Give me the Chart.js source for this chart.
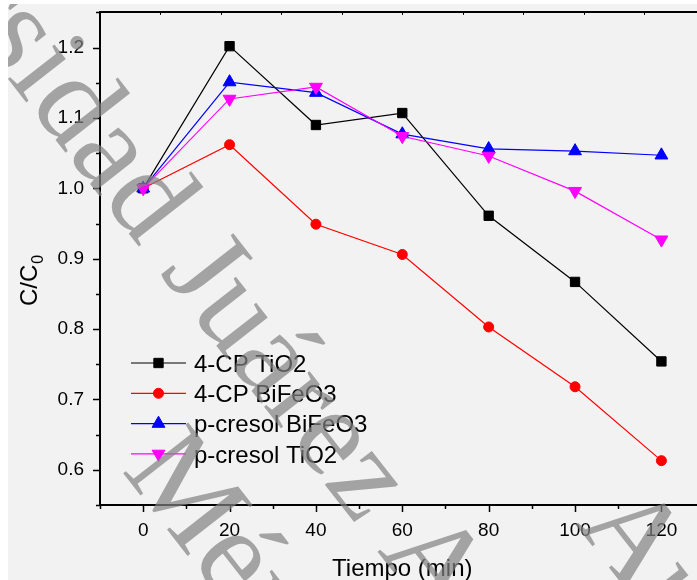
<!DOCTYPE html>
<html>
<head>
<meta charset="utf-8">
<script src="https://cdn.jsdelivr.net/npm/chart.js@4.4.0/dist/chart.umd.min.js"></script>
<style>
  html, body { margin: 0; padding: 0; background: #ffffff; overflow: hidden; width: 697px; height: 580px; }
  #wrap { position: absolute; left: 8px; top: 4px; width: 705px; height: 576px; }
</style>
</head>
<body>
<div id="wrap"><canvas id="chart" width="705" height="576"></canvas></div>
<script>
const tiempo = [0, 20, 40, 60, 80, 100, 120];
const cpTiO2 = [1.0, 1.202, 1.090, 1.107, 0.961, 0.867, 0.754];
const cpBiFeO3 = [1.0, 1.062, 0.949, 0.906, 0.803, 0.718, 0.613];
const cresolBiFeO3 = [1.0, 1.151, 1.136, 1.077, 1.056, 1.053, 1.047];
const cresolTiO2 = [1.0, 1.127, 1.144, 1.074, 1.046, 0.996, 0.927];
const seriesNames = ["4-CP TiO2", "4-CP BiFeO3", "p-cresol BiFeO3", "p-cresol TiO2"];
const xTickLabels = [0, 20, 40, 60, 80, 100, 120];
const yTickLabels = [0.6, 0.7, 0.8, 0.9, 1.0, 1.1, 1.2];

const FONT = "'Liberation Sans', Arial, sans-serif";
const SERIF = "'Liberation Serif', 'Times New Roman', serif";

const toPoints = vals => vals.map((v, i) => ({ x: tiempo[i], y: v }));

const markers = [
  { color: "#000000", style: "rect", radius: 6.6, rotation: 0 },
  { color: "#ff0000", style: "circle", radius: 5, rotation: 0 },
  { color: "#0000ff", style: "triangle", radius: 7.4, rotation: 0 },
  { color: "#ff00ff", style: "triangle", radius: 7.4, rotation: 180 }
];
const allValues = [cpTiO2, cpBiFeO3, cresolBiFeO3, cresolTiO2];

const datasets = allValues.map((vals, i) => ({
  label: seriesNames[i],
  data: toPoints(vals),
  borderColor: markers[i].color,
  backgroundColor: markers[i].color,
  borderWidth: 1.2,
  pointStyle: markers[i].style,
  pointRotation: markers[i].rotation,
  pointRadius: markers[i].radius,
  pointBorderWidth: 1,
  pointBorderColor: markers[i].color,
  pointBackgroundColor: markers[i].color,
  tension: 0,
  order: 3 - i
}));

// no label padding, the axes sit exactly where afterFit says
const fixSize = (w, h) => s => {
  if (w !== null) s.width = w;
  if (h !== null) s.height = h;
  s.paddingLeft = 0; s.paddingRight = 0; s.paddingTop = 0; s.paddingBottom = 0;
};

// background, axis ticks, titles, legend, watermark
const decor = {
  id: "decor",
  beforeDraw(chart) {
    const ctx = chart.ctx;
    ctx.save();
    ctx.fillStyle = "#f2f2f2";
    ctx.fillRect(0, 0, chart.width, chart.height);
    ctx.restore();
  },
  afterDatasetsDraw(chart) {
    const ctx = chart.ctx;
    const { x, y, x2 } = chart.scales;
    ctx.save();
    ctx.strokeStyle = "#000";
    ctx.lineWidth = 1.5;
    x.ticks.forEach(t => {
      const px = Math.round(x.getPixelForValue(t.value)) + 0.5;
      const len = t.value % 20 === 0 ? 7 : 4;
      ctx.beginPath();
      ctx.moveTo(px, x.top);
      ctx.lineTo(px, x.top + len);
      ctx.stroke();
    });
    y.ticks.forEach(t => {
      const py = Math.round(y.getPixelForValue(t.value)) + 0.5;
      const major = Math.abs(t.value * 10 - Math.round(t.value * 10)) < 1e-6;
      const len = major ? 7 : 4;
      ctx.beginPath();
      ctx.moveTo(y.right, py);
      ctx.lineTo(y.right - len, py);
      ctx.stroke();
    });
    ctx.lineWidth = 1;
    x2.ticks.forEach(t => {
      const px = Math.round(x2.getPixelForValue(t.value)) + 0.5;
      ctx.beginPath();
      ctx.moveTo(px, x2.bottom);
      ctx.lineTo(px, x2.bottom + 2.5);
      ctx.stroke();
    });

    // axis titles
    ctx.fillStyle = "#000";
    ctx.textBaseline = "alphabetic";
    ctx.font = "24px " + FONT;
    ctx.textAlign = "center";
    ctx.fillText("Tiempo (min)", x.getPixelForValue(60), 572);

    ctx.save();
    ctx.translate(29, 302);
    ctx.rotate(-Math.PI / 2);
    ctx.textAlign = "left";
    ctx.font = "24px " + FONT;
    ctx.fillText("C/C", 0, 0);
    const w = ctx.measureText("C/C").width;
    ctx.font = "16px " + FONT;
    ctx.fillText("0", w + 1, 6);
    ctx.restore();

    // legend
    const lx = 123, lw = 55, rowH = 30.3, ly0 = 359;
    chart.data.datasets.forEach((ds, i) => {
      const cy = ly0 + i * rowH;
      ctx.strokeStyle = ds.borderColor;
      ctx.lineWidth = 1.2;
      ctx.beginPath();
      ctx.moveTo(lx, cy);
      ctx.lineTo(lx + lw, cy);
      ctx.stroke();
      ctx.fillStyle = ds.pointBackgroundColor;
      ctx.strokeStyle = ds.pointBorderColor;
      ctx.lineWidth = 1;
      Chart.helpers.drawPoint(ctx, {
        pointStyle: ds.pointStyle,
        radius: ds.pointRadius,
        rotation: ds.pointRotation,
        borderWidth: 1
      }, lx + lw / 2, cy);
      ctx.fillStyle = "#000";
      ctx.font = "24px " + FONT;
      ctx.textAlign = "left";
      ctx.textBaseline = "alphabetic";
      ctx.fillText(ds.label, 186, cy + 8.6);
    });
    ctx.restore();
  },
  afterDraw(chart) {
    // watermark
    const ctx = chart.ctx;
    const ang = 52 * Math.PI / 180;
    ctx.save();
    ctx.fillStyle = "rgba(130,130,130,0.7)";
    ctx.font = "126px " + SERIF;
    ctx.textBaseline = "alphabetic";
    ctx.textAlign = "left";
    ctx.save();
    ctx.translate(-32, 34);
    ctx.rotate(ang);
    const pre = ctx.measureText("Univer").width;
    ctx.fillText("Universidad Juárez Autónoma de Tabasco", -pre, 0);
    ctx.fillText("México", 430, 152);
    ctx.restore();
    ctx.translate(567, 520);
    ctx.rotate(ang);
    ctx.fillText("Autónoma de Tabasco", 0, 0);
    ctx.restore();
  }
};

new Chart(document.getElementById("chart"), {
  type: "line",
  data: { datasets },
  plugins: [decor],
  options: {
    responsive: false,
    animation: false,
    layout: { padding: { left: 0, right: 3, top: 0, bottom: 0 } },
    plugins: { legend: { display: false }, tooltip: { enabled: false } },
    scales: {
      x: {
        type: "linear",
        position: "bottom",
        min: -10,
        max: 130,
        afterFit: fixSize(null, 75),
        grid: { display: false, drawTicks: false },
        border: { display: true, color: "#000", width: 2 },
        ticks: {
          stepSize: 10,
          autoSkip: false,
          maxRotation: 0,
          padding: 14,
          color: "#000",
          font: { family: FONT, size: 19 },
          callback: v => xTickLabels.includes(v) ? String(v) : ""
        }
      },
      x2: {
        type: "linear",
        position: "top",
        min: -10,
        max: 130,
        afterFit: fixSize(null, 8),
        grid: { display: false, drawTicks: false },
        border: { display: true, color: "#000", width: 2 },
        ticks: { stepSize: 14, display: false }
      },
      y: {
        type: "linear",
        min: 0.55,
        max: 1.25,
        afterFit: fixSize(92, null),
        grid: { display: false, drawTicks: false },
        border: { display: true, color: "#000", width: 2 },
        ticks: {
          stepSize: 0.05,
          autoSkip: false,
          padding: 16,
          color: "#000",
          font: { family: FONT, size: 19 },
          callback: v => {
            const hit = yTickLabels.find(t => Math.abs(t - v) < 1e-6);
            return hit !== undefined ? hit.toFixed(1) : "";
          }
        }
      }
    }
  }
});
</script>
</body>
</html>
